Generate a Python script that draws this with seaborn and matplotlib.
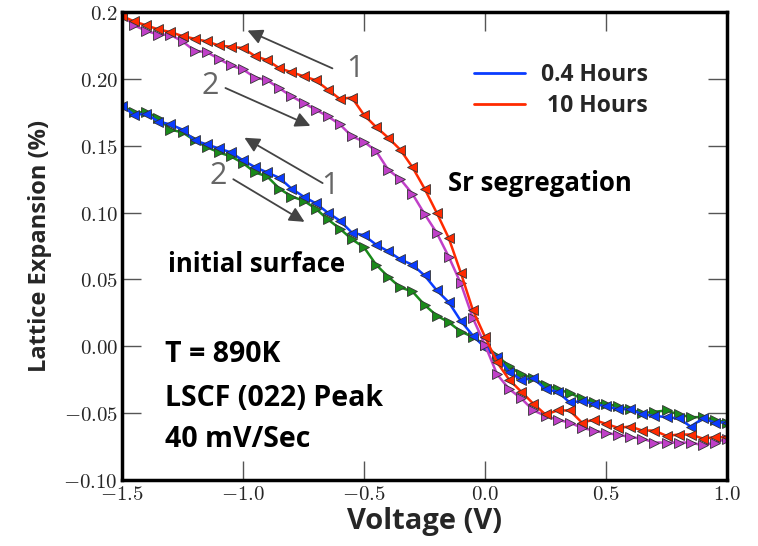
import numpy as np
import pandas as pd
import matplotlib
matplotlib.use("Agg")
import matplotlib.pyplot as plt
from matplotlib.lines import Line2D
import seaborn as sns

voltage = [-1.50, -1.45, -1.40, -1.35, -1.30, -1.25, -1.20, -1.15, -1.10, -1.05,
           -1.00, -0.95, -0.90, -0.85, -0.80, -0.75, -0.70, -0.65, -0.60, -0.55,
           -0.50, -0.45, -0.40, -0.35, -0.30, -0.25, -0.20, -0.15, -0.10, -0.05,
           0.00, 0.05, 0.10, 0.15, 0.20, 0.25, 0.30, 0.35, 0.40, 0.45,
           0.50, 0.55, 0.60, 0.65, 0.70, 0.75, 0.80, 0.85, 0.90, 0.95, 1.00]

h04_sweep1 = [0.180, 0.173, 0.174, 0.168, 0.166, 0.162, 0.154, 0.151, 0.148, 0.145,
              0.139, 0.134, 0.130, 0.126, 0.118, 0.112, 0.107, 0.100, 0.094, 0.085,
              0.083, 0.076, 0.071, 0.065, 0.061, 0.053, 0.042, 0.033, 0.019, 0.008,
              -0.001, -0.008, -0.019, -0.025, -0.024, -0.032, -0.034, -0.042, -0.041, -0.043,
              -0.045, -0.047, -0.047, -0.051, -0.052, -0.053, -0.054, -0.060, -0.054, -0.057, -0.057]

h04_sweep2 = [0.180, 0.175, 0.175, 0.171, 0.162, 0.160, 0.154, 0.149, 0.145, 0.142,
              0.137, 0.130, 0.127, 0.118, 0.112, 0.109, 0.103, 0.095, 0.088, 0.080,
              0.074, 0.061, 0.052, 0.044, 0.041, 0.031, 0.023, 0.018, 0.011, 0.007,
              0.001, -0.007, -0.015, -0.021, -0.024, -0.029, -0.032, -0.035, -0.039, -0.042,
              -0.043, -0.045, -0.047, -0.050, -0.049, -0.048, -0.051, -0.053, -0.053, -0.055, -0.057]

h10_sweep1 = [0.247, 0.243, 0.240, 0.237, 0.235, 0.232, 0.230, 0.228, 0.225, 0.224,
              0.223, 0.217, 0.214, 0.208, 0.205, 0.202, 0.199, 0.192, 0.185, 0.186,
              0.173, 0.164, 0.156, 0.147, 0.134, 0.118, 0.100, 0.081, 0.055, 0.027,
              0.007, -0.012, -0.025, -0.034, -0.043, -0.051, -0.048, -0.048, -0.057, -0.055,
              -0.058, -0.061, -0.060, -0.063, -0.063, -0.067, -0.066, -0.066, -0.069, -0.068, -0.068]

h10_sweep2 = [0.248, 0.240, 0.236, 0.233, 0.233, 0.228, 0.221, 0.220, 0.215, 0.210,
              0.207, 0.201, 0.199, 0.193, 0.187, 0.182, 0.177, 0.172, 0.166, 0.157,
              0.153, 0.146, 0.132, 0.125, 0.114, 0.099, 0.085, 0.067, 0.047, 0.021,
              0.001, -0.021, -0.032, -0.039, -0.048, -0.052, -0.055, -0.057, -0.061, -0.063,
              -0.065, -0.066, -0.068, -0.069, -0.072, -0.072, -0.072, -0.072, -0.074, -0.072, -0.069]

legend_labels = ["0.4 Hours", " 10 Hours"]
x_ticks = [-1.5, -1.0, -0.5, 0.0, 0.5, 1.0]
x_tick_labels = ["−1.5", "−1.0", "−0.5", "0.0", "0.5", "1.0"]
y_ticks = [-0.10, -0.05, 0.00, 0.05, 0.10, 0.15, 0.20, 0.25]
y_tick_labels = ["−0.10", "−0.05", "0.00", "0.05", "0.10", "0.15", "0.20", "0.2"]

sns.set_style("ticks")
plt.rcParams["font.family"] = ["Open Sans", "DejaVu Sans"]
plt.rcParams["mathtext.fontset"] = "cm"

C_BLUE = "#0a3cff"
C_GREEN = "#1a8a1a"
C_RED = "#ff2a00"
C_MAG = "#c040c8"

fig = plt.figure(figsize=(7.58, 5.46), dpi=100)
ax = fig.add_axes([122 / 758, 1 - 480 / 546, (727 - 122) / 758, (480 - 12) / 546])

series = [
    (h04_sweep2, C_GREEN, ">"),
    (h04_sweep1, C_BLUE, "<"),
    (h10_sweep2, C_MAG, ">"),
    (h10_sweep1, C_RED, "<"),
]
for vals, col, mk in series:
    df = pd.DataFrame({"V": voltage, "L": vals})
    sns.lineplot(data=df, x="V", y="L", ax=ax, color=col, marker=mk,
                 markersize=7.5, markeredgecolor="#333333", markeredgewidth=0.6,
                 linewidth=1.8, sort=False, estimator=None, legend=False)

ax.set_xlim(-1.5, 1.0)
ax.set_ylim(-0.10, 0.25)
ax.set_xticks(x_ticks)
ax.set_xticklabels(["$" + t.replace("−", "-") + "$" for t in x_tick_labels], fontsize=15)
ax.set_yticks(y_ticks)
ax.set_yticklabels(["$" + t.replace("−", "-") + "$" for t in y_tick_labels], fontsize=15)
ax.tick_params(direction="in", length=14, width=1.0, color="#555555",
               top=True, right=True, pad=3)
for s in ax.spines.values():
    s.set_linewidth(2.5)
    s.set_color("black")

ax.set_xlabel("Voltage (V)", fontsize=21, fontweight="bold", labelpad=1)
ax.set_ylabel("Lattice Expansion (%)", fontsize=17, fontweight="bold", labelpad=8)

# legend
handles = [Line2D([0], [0], color=C_BLUE, lw=2), Line2D([0], [0], color=C_RED, lw=2)]
ax.legend(handles, legend_labels, loc="upper left", bbox_to_anchor=(0.548, 0.935),
          frameon=False, prop={"family": "Open Sans", "weight": "bold", "size": 16.5},
          handlelength=2.2, handletextpad=0.7, labelspacing=0.3)

# annotation arrows
arrow_kw = dict(arrowstyle="-|>,head_length=0.9,head_width=0.45", color="#444444", lw=1.3)
arrows = [((-0.620, 0.207), (-0.992, 0.237)),
          ((-1.083, 0.194), (-0.711, 0.164)),
          ((-0.661, 0.121), (-1.004, 0.157)),
          ((-1.050, 0.126), (-0.736, 0.092))]
for tail, head in arrows:
    ax.annotate("", xy=head, xytext=tail, arrowprops=arrow_kw)

num_kw = dict(fontsize=22, color="#666666", ha="center", va="center", family="Open Sans")
ax.text(-0.537, 0.207, "1", **num_kw)
ax.text(-1.136, 0.195, "2", **num_kw)
ax.text(-0.640, 0.120, "1", **num_kw)
ax.text(-1.103, 0.127, "2", **num_kw)

txt_kw = dict(fontweight="bold", color="black", ha="left", va="center")
ax.text(-0.153, 0.122, "Sr segregation", fontsize=18.5, **txt_kw)
ax.text(-1.310, 0.061, "initial surface", fontsize=18.5, **txt_kw)
ax.text(-1.322, -0.0065, "T = 890K", fontsize=20.5, **txt_kw)
ax.text(-1.322, -0.039, "LSCF (022) Peak", fontsize=20.5, **txt_kw)
ax.text(-1.322, -0.070, "40 mV/Sec", fontsize=20.5, **txt_kw)

fig.savefig("out.png", dpi=100)
